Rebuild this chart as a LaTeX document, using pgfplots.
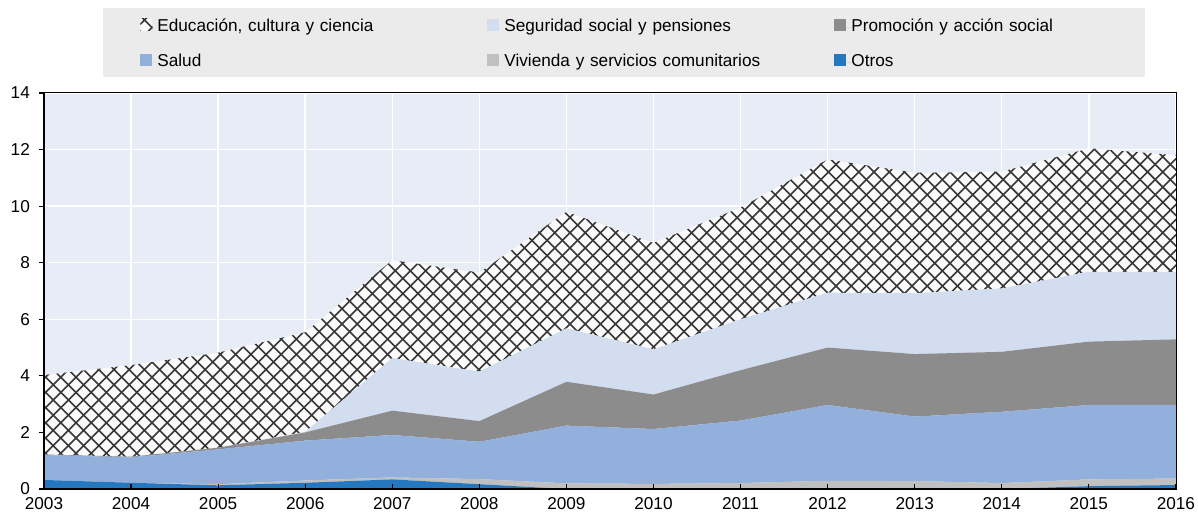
\documentclass[border=0pt]{standalone}
\usepackage{pgfplots}
\pgfplotsset{compat=1.18}
\usepackage{pgfplotstable}
\usepackage{fontspec}
\setmainfont{Liberation Sans}
\usetikzlibrary{patterns}
\definecolor{cOtros}{RGB}{37,119,192}
\definecolor{cViv}{RGB}{192,192,192}
\definecolor{cSalud}{RGB}{147,176,220}
\definecolor{cPromo}{RGB}{140,140,140}
\definecolor{cSeg}{RGB}{210,221,240}
\definecolor{plotbg}{RGB}{231,236,246}
\definecolor{legbg}{RGB}{235,235,235}
\definecolor{hatchbg}{RGB}{250,250,250}
\definecolor{hatchline}{RGB}{55,55,55}
\pgfdeclarepatternformonly{oecdcross}{\pgfqpoint{-0.5pt}{-0.5pt}}{\pgfqpoint{8.1pt}{8.1pt}}{\pgfqpoint{7.6pt}{7.6pt}}{%
  \pgfsetlinewidth{0.8pt}%
  \pgfpathmoveto{\pgfqpoint{0pt}{0pt}}\pgfpathlineto{\pgfqpoint{7.6pt}{7.6pt}}%
  \pgfpathmoveto{\pgfqpoint{0pt}{7.6pt}}\pgfpathlineto{\pgfqpoint{7.6pt}{0pt}}%
  \pgfusepath{stroke}}
\pgfplotstableread{
year otros viv salud promo seg edu
2003 0.32 0.00 0.88 0.02 0.00 2.81
2004 0.22 0.00 0.90 0.02 0.00 3.24
2005 0.13 0.04 1.23 0.06 0.00 3.36
2006 0.22 0.08 1.41 0.29 0.02 3.52
2007 0.34 0.07 1.50 0.86 1.86 3.46
2008 0.17 0.18 1.32 0.73 1.75 3.50
2009 0.00 0.20 2.04 1.55 1.89 4.12
2010 0.00 0.18 1.94 1.22 1.60 3.76
2011 0.00 0.21 2.21 1.78 1.80 3.95
2012 0.00 0.29 2.68 2.03 1.94 4.71
2013 0.00 0.28 2.28 2.21 2.15 4.26
2014 0.00 0.21 2.52 2.12 2.24 4.13
2015 0.10 0.24 2.63 2.24 2.47 4.36
2016 0.14 0.23 2.60 2.32 2.39 4.12
}\datatable
\pgfplotsset{
  base/.style={
    scale only axis, width=566pt, height=198pt,
    xmin=2003, xmax=2016, ymin=0, ymax=14,
    xtick={2003,2004,...,2016}, ytick={0,2,...,14},
    /pgf/number format/assume math mode=true,
    /pgf/number format/1000 sep={},
  }
}
\begin{document}
\fontsize{8.6}{10.3}\selectfont
\begin{tikzpicture}
\path[use as bounding box] (-22pt,-12.5pt) rectangle (577pt,244.5pt);
\fill[legbg] (29.5pt,206pt) rectangle (550.5pt,240.5pt);
\begin{axis}[
  base,
  grid=major, major grid style={white, line width=0.7pt},
  axis background/.style={fill=plotbg},
  axis line style={draw=none},
  major tick length=0pt,
  xticklabels={}, yticklabels={},
  stack plots=y,
  legend columns=3, reverse legend, legend cell align=left,
  legend style={draw=none, fill=none, at={(0.0848,1.189)}, anchor=north west,
    inner sep=0pt, /tikz/column sep=0pt, /tikz/row sep=9pt,
    nodes={inner sep=0pt, text width=165pt, text height=6.2pt, text depth=1.8pt}},
  legend image code/.code={\path (0pt,0pt) -- (8.5pt,0pt); \path[#1,draw=none] (0pt,-1.5pt) rectangle (6pt,4.5pt);},
]
\addplot[draw=none, fill=cOtros] table[x=year,y=otros]{\datatable} \closedcycle;
\addlegendentry{Otros}
\addplot[draw=none, fill=cViv] table[x=year,y=viv]{\datatable} \closedcycle;
\addlegendentry{Vivienda y servicios comunitarios}
\addplot[draw=none, fill=cSalud] table[x=year,y=salud]{\datatable} \closedcycle;
\addlegendentry{Salud}
\addplot[draw=none, fill=cPromo] table[x=year,y=promo]{\datatable} \closedcycle;
\addlegendentry{Promoción y acción social}
\addplot[draw=none, fill=cSeg] table[x=year,y=seg]{\datatable} \closedcycle;
\addlegendentry{Seguridad social y pensiones}
\addplot[draw=none, fill=hatchbg, postaction={pattern color=hatchline, pattern=oecdcross}] table[x=year,y=edu]{\datatable} \closedcycle;
\addlegendentry{Educación, cultura y ciencia}
\end{axis}
\begin{axis}[
  base,
  axis line style={black, line width=0.5pt},
  tick pos=left, tick align=outside, major tick length=2.5pt,
  tick style={black, line width=0.6pt},
  xtick style={yshift=2.5pt},
  xticklabel style={yshift=1.2pt},
  yticklabel style={xshift=-1.5pt},
]
\draw[black, line width=1.1pt] (rel axis cs:0,1) -- (rel axis cs:0,0) -- (rel axis cs:1,0);
\node[xshift=-10.5pt, yshift=11.75pt] at (rel axis cs:0,1) {\%};
\end{axis}
\end{tikzpicture}
\end{document}
